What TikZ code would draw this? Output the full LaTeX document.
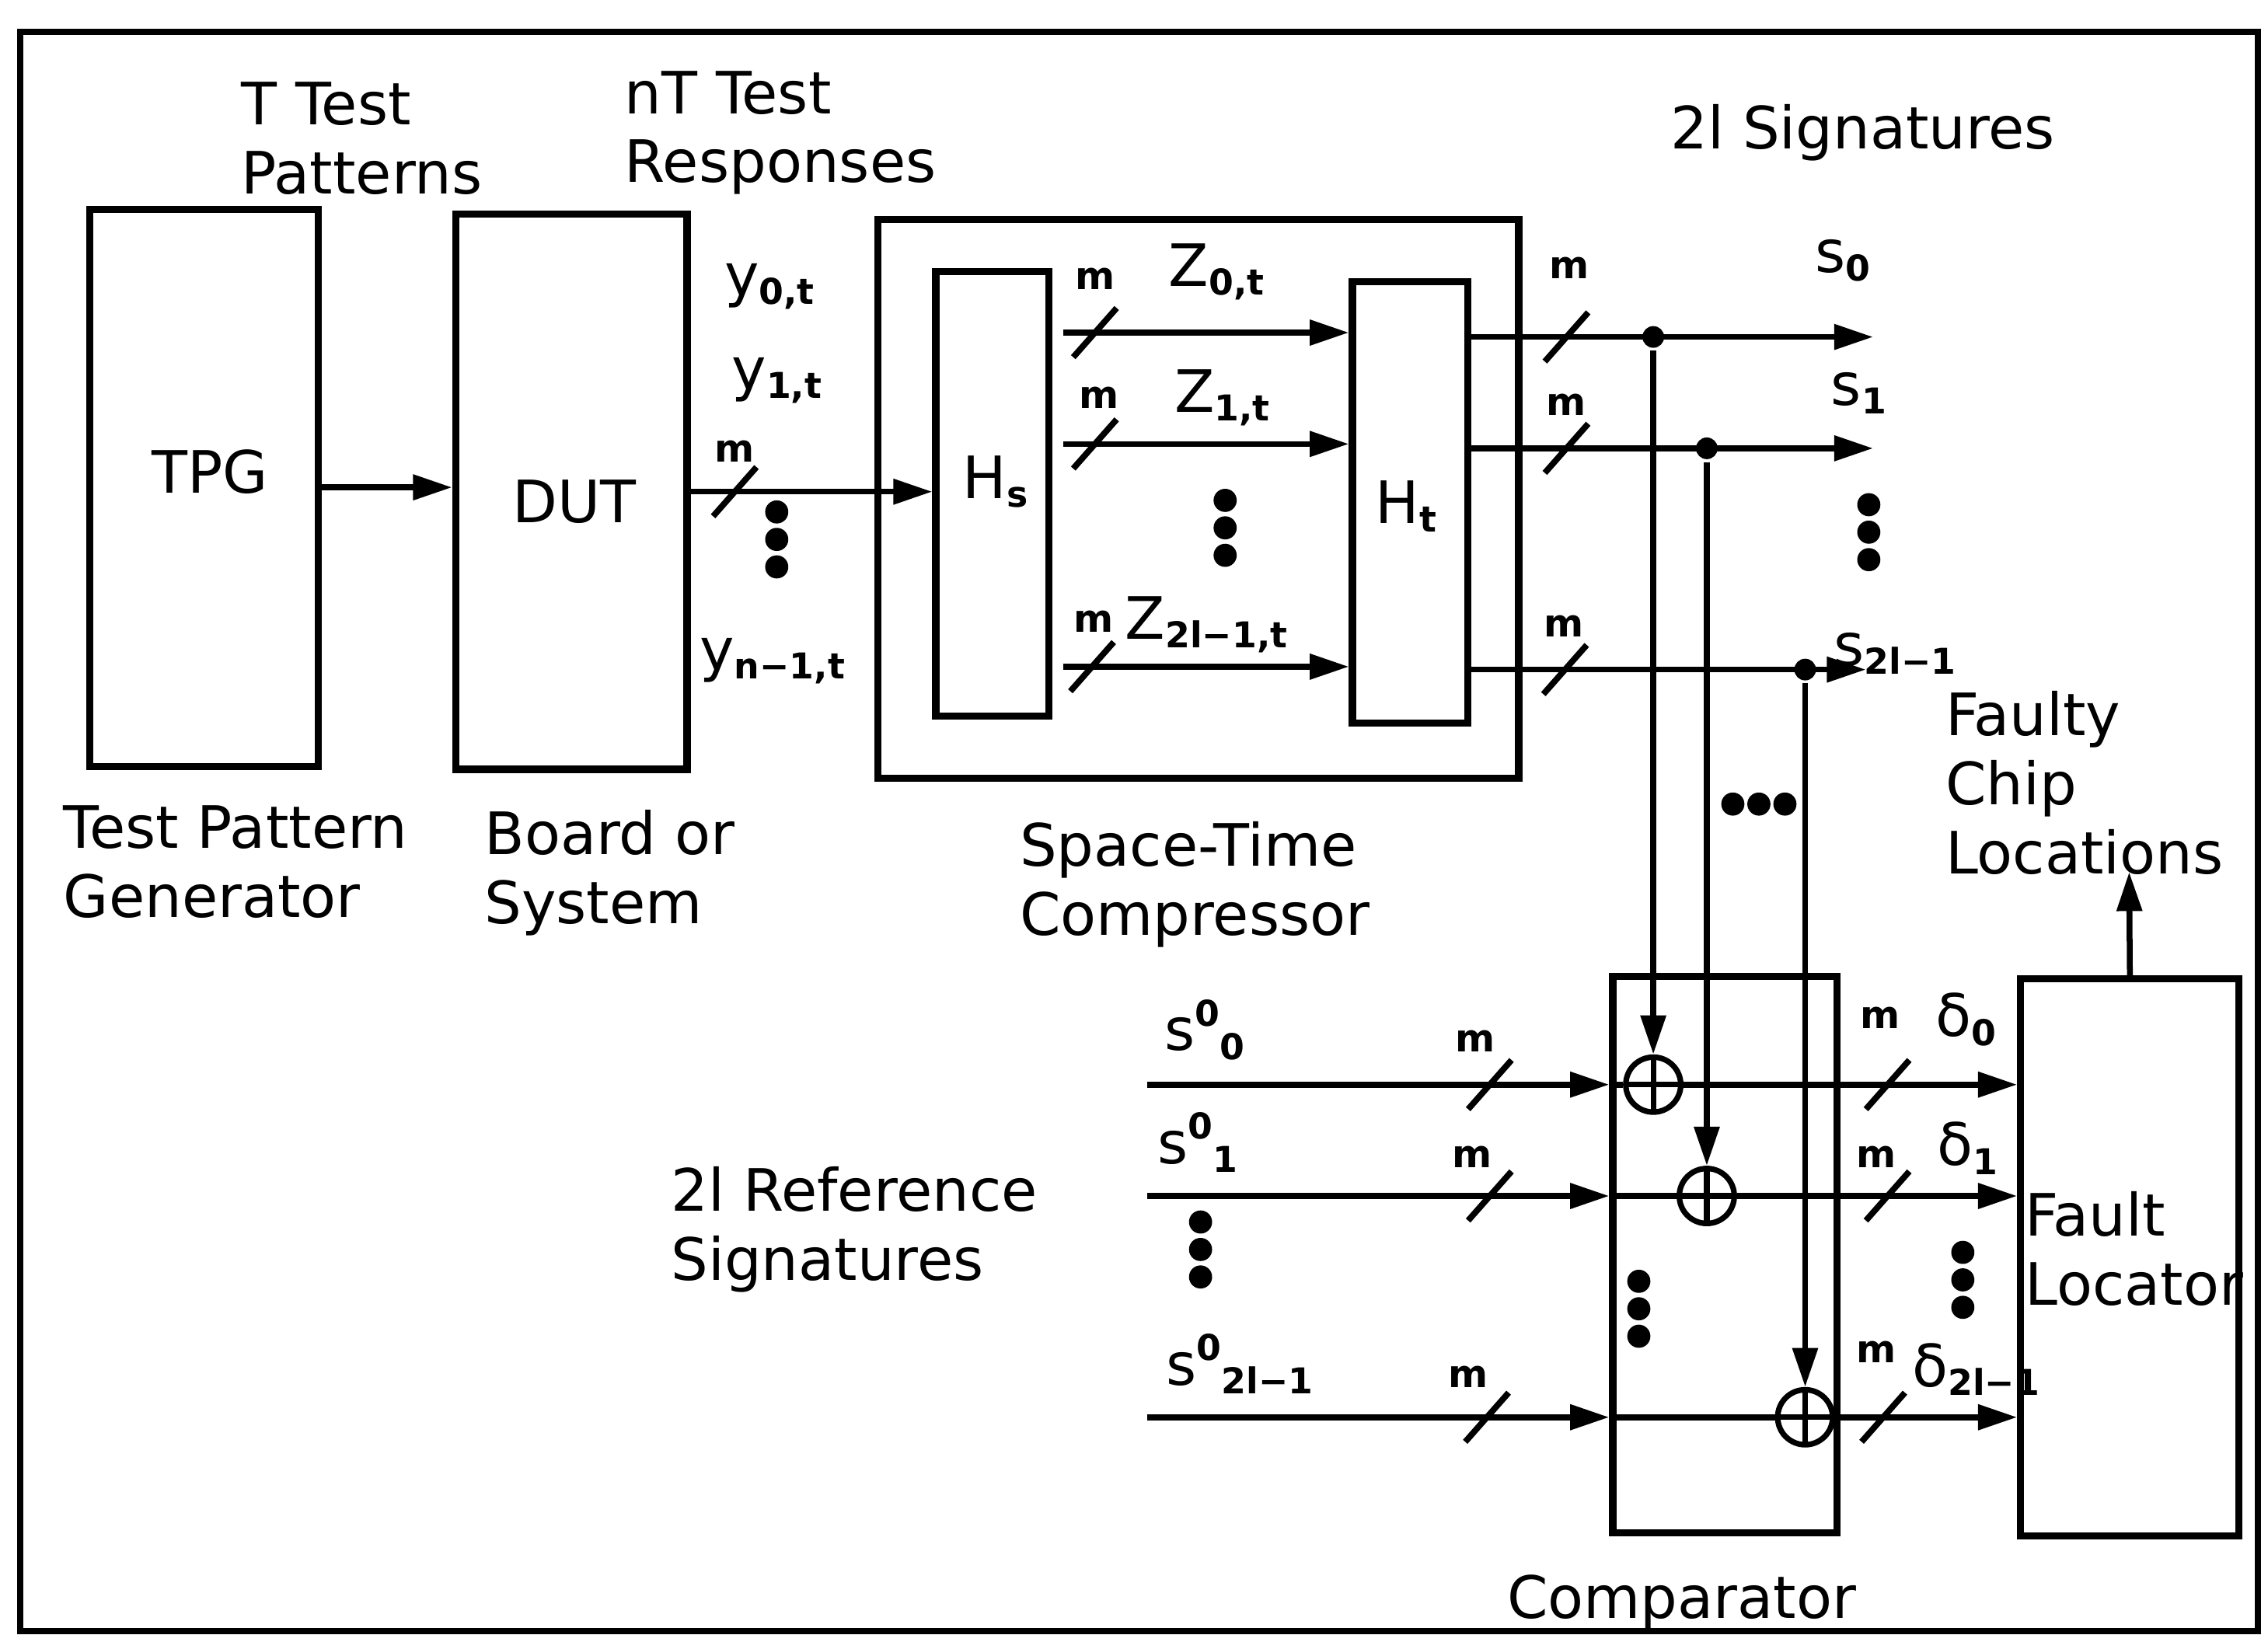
\documentclass[tikz,border=0pt]{standalone}
\usepackage{fontspec}
\setmainfont{DejaVu Sans}
\usetikzlibrary{arrows.meta,fit}
\newcommand{\sbs}[1]{\raisebox{-0.15em}{\fontsize{14}{14}\selectfont\bfseries #1}}
\newcommand{\sps}[1]{\raisebox{0.42em}{\fontsize{14}{14}\selectfont\bfseries #1}}
\tikzset{
  box/.style={draw, line width=2.8pt, inner sep=0pt},
  txt/.style={font=\fontsize{23}{27.2}\selectfont, inner sep=0pt, align=left, anchor=north west},
  lab/.style={font=\fontsize{23}{27.2}\selectfont, inner sep=0pt},
  mlab/.style={font=\fontsize{15}{15}\selectfont\bfseries, inner sep=0pt},
  arr/.style={-{Triangle[length=0.54cm,width=0.34cm]}},
  jdot/.style={circle, fill, inner sep=0pt, minimum size=0.3cm},
  xor/.style={circle, draw, line width=2.2pt, inner sep=0pt, minimum size=0.76cm,
    path picture={\draw[line width=2.2pt] (path picture bounding box.north) -- (path picture bounding box.south)
      (path picture bounding box.west) -- (path picture bounding box.east);}},
  busslash/.pic={\draw[line width=2.4pt] (-15,17) -- (15,-17);},
  threedotsv/.pic={\fill (0,-19) circle[radius=0.16cm] (0,0) circle[radius=0.16cm] (0,19) circle[radius=0.16cm];},
  threedotsh/.pic={\fill (-18,0) circle[radius=0.16cm] (0,0) circle[radius=0.16cm] (18,0) circle[radius=0.16cm];},
}
\begin{document}
\begin{tikzpicture}[x=0.02cm, y=-0.02cm, line width=2.3pt]
\useasboundingbox (0,0) rectangle (1568,1135);
% outer frame
\draw[line width=2.5pt] (14,22) rectangle (1561,1128);

% boxes
\node[box, fit={(62,145) (220,530)}] (tpg) {};
\node[box, fit={(315,148) (475,532)}] (dut) {};
\node[box, fit={(607,152) (1050,538)}] (stc) {};
\node[box, fit={(647,188) (725,495)}] (hs) {};
\node[box, fit={(935,195) (1015,500)}] (ht) {};
\node[box, fit={(1115,675) (1270,1060)}] (comp) {};
\node[box, fit={(1397,677) (1548,1062)}] (fl) {};

\node[lab] (tpgl) at (145,326) {TPG};
\node[lab] (dutl) at (397,347) {DUT};
\node[lab] (hsl) at (688,333) {H\sbs{s}};
\node[lab] (htl) at (972,350) {H\sbs{t}};

% captions
\node[txt] (cap1) at (165,55) {T Test\\Patterns};
\node[txt] (cap2) at (430,47) {nT Test\\Responses};
\node[txt] (cap3) at (1153,70) {2l Signatures};
\node[txt] (cap4) at (42,555) {Test Pattern\\Generator};
\node[txt] (cap5) at (333,558) {Board or\\System};
\node[txt] (cap6) at (703,566) {Space-Time\\Compressor};
\node[txt] (cap7) at (1343,476) {Faulty\\Chip\\Locations};
\node[txt] (cap8) at (462,805) {2l Reference\\Signatures};
\node[txt] (cap9) at (1040,1087) {Comparator};
\node[txt] (cap10) at (1398,822) {Fault\\Locator};

% row coordinates
\coordinate (r1) at (0,337);
\coordinate (r2) at (0,340);
\coordinate (zA) at (0,230);
\coordinate (zB) at (0,307);
\coordinate (zC) at (0,461);
\coordinate (oA) at (0,233);
\coordinate (oB) at (0,310);
\coordinate (oC) at (0,463);
\coordinate (cA) at (0,750);
\coordinate (cB) at (0,827);
\coordinate (cC) at (0,980);

% TPG -> DUT -> Hs
\draw[arr] (tpg.east |- r1) -- (dut.west |- r1);
\draw[arr] (dut.east |- r2) -- (hs.west |- r2);
\pic at (508,340) {busslash};
\node[mlab] (m1) at (508,312) {m};
\pic at (537,373) {threedotsv};
\node[lab] (y0) at (532,198) {y\sbs{0,t}};
\node[lab] (y1) at (537,263) {y\sbs{1,t}};
\node[lab] (yn) at (534,457) {y\sbs{n−1,t}};

% Hs -> Ht
\coordinate (zsA) at (735,230);
\coordinate (zsB) at (735,307);
\coordinate (zsC) at (735,461);
\draw[arr] (zsA) -- (ht.west |- zA);
\draw[arr] (zsB) -- (ht.west |- zB);
\draw[arr] (zsC) -- (ht.west |- zC);
\pic at (757,230) {busslash};
\pic at (757,307) {busslash};
\pic at (755,461) {busslash};
\node[mlab] (m2) at (757,193) {m};
\node[mlab] (m3) at (760,275) {m};
\node[mlab] (m4) at (756,430) {m};
\node[lab] (z0) at (841,188) {Z\sbs{0,t}};
\node[lab] (z1) at (845,275) {Z\sbs{1,t}};
\node[lab] (z2) at (834,432) {Z\sbs{2l−1,t}};
\pic at (847,365) {threedotsv};

% Ht outputs
\coordinate (sA) at (1295,233);
\coordinate (sB) at (1295,310);
\coordinate (sC) at (1290,463);
\draw[arr] (ht.east |- oA) -- (sA);
\draw[arr] (ht.east |- oB) -- (sB);
\draw[arr] (ht.east |- oC) -- (sC);
\pic at (1083,233) {busslash};
\pic at (1083,310) {busslash};
\pic at (1082,463) {busslash};
\node[mlab] (m5) at (1085,185) {m};
\node[mlab] (m6) at (1083,280) {m};
\node[mlab] (m7) at (1081,433) {m};
\node[lab] (s0) at (1274,180) {s\sbs{0}};
\node[lab] (s1) at (1285,272) {s\sbs{1}};
\node[lab] (s2) at (1310,452) {s\sbs{2l−1}};
\pic at (1292,368) {threedotsv};

% junctions and XORs
\node[jdot] (jA) at (1143,233) {};
\node[jdot] (jB) at (1180,310) {};
\node[jdot] (jC) at (1248,463) {};
\node[xor] (xA) at (1143,750) {};
\node[xor] (xB) at (1180,827) {};
\node[xor] (xC) at (1248,980) {};
\draw[arr] (jA) -- (xA.north);
\draw[arr] (jB) -- (xB.north);
\draw[arr] (jC) -- (xC.north);
\pic at (1216,556) {threedotsh};

% reference inputs
\coordinate (rA) at (793,750);
\coordinate (rB) at (793,827);
\coordinate (rC) at (793,980);
\draw[arr] (rA) -- (comp.west |- cA);
\draw[arr] (rB) -- (comp.west |- cB);
\draw[arr] (rC) -- (comp.west |- cC);
\draw (comp.west |- cA) -- (xA.west);
\draw (comp.west |- cB) -- (xB.west);
\draw (comp.west |- cC) -- (xC.west);
\pic at (1030,750) {busslash};
\pic at (1030,827) {busslash};
\pic at (1028,980) {busslash};
\node[mlab] (m8) at (1020,720) {m};
\node[mlab] (m9) at (1018,800) {m};
\node[mlab] (m10) at (1015,952) {m};
\node[lab] (S0) at (833,712) {s\sps{0}\sbs{0}};
\node[lab] (S1) at (828,790) {s\sps{0}\sbs{1}};
\node[lab] (S2) at (857,943) {s\sps{0}\sbs{2l−1}};
\pic at (830,864) {threedotsv};
\pic at (1133,905) {threedotsv};

% comparator outputs
\draw[arr] (xA.east) -- (fl.west |- cA);
\draw[arr] (xB.east) -- (fl.west |- cB);
\draw[arr] (xC.east) -- (fl.west |- cC);
\pic at (1305,750) {busslash};
\pic at (1305,827) {busslash};
\pic at (1302,980) {busslash};
\node[mlab] (m11) at (1300,704) {m};
\node[mlab] (m12) at (1297,800) {m};
\node[mlab] (m13) at (1297,935) {m};
\node[lab] (d0) at (1359,705) {δ\sbs{0}};
\node[lab] (d1) at (1360,794) {δ\sbs{1}};
\node[lab] (d2) at (1366,947) {δ\sbs{2l−1}};
\pic at (1357,885) {threedotsv};

% fault locator output
\coordinate (locs) at (1472,603);
\draw[arr] (fl.north) -- (locs);
\end{tikzpicture}
\end{document}
